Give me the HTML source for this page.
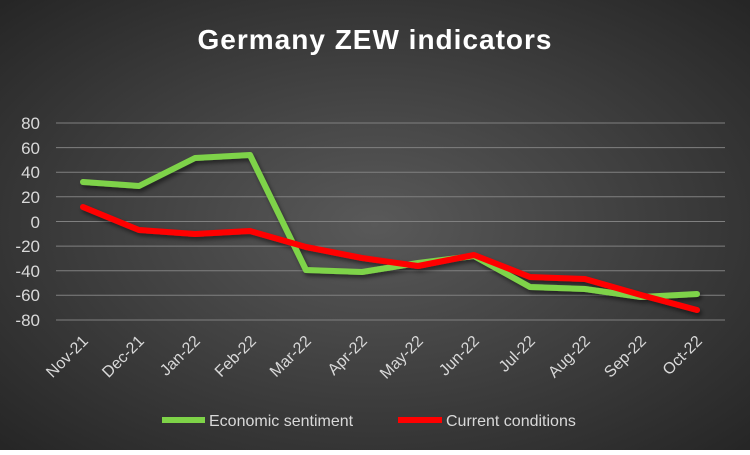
<!DOCTYPE html>
<html><head><style>
body{margin:0;width:750px;height:450px;overflow:hidden;}
</style></head><body>
<svg width="750" height="450" xmlns="http://www.w3.org/2000/svg" font-family="Liberation Sans, sans-serif">
<defs>
<radialGradient id="bg" cx="50%" cy="50%" r="70%">
<stop offset="0" stop-color="#595959"/><stop offset="1" stop-color="#262626"/>
</radialGradient>
<filter id="sh" x="-10%" y="-10%" width="120%" height="130%"><feDropShadow dx="2" dy="3" stdDeviation="2" flood-color="#000" flood-opacity="0.5"/></filter>
</defs>
<rect width="750" height="450" fill="url(#bg)"/>
<text x="375" y="49" text-anchor="middle" fill="#fff" font-size="28" font-weight="bold" letter-spacing="1">Germany ZEW indicators</text>
<g stroke="#808080" stroke-width="1">
<line x1="56" x2="725" y1="123" y2="123"/><line x1="56" x2="725" y1="147.6" y2="147.6"/>
<line x1="56" x2="725" y1="172.2" y2="172.2"/><line x1="56" x2="725" y1="196.8" y2="196.8"/>
<line x1="56" x2="725" y1="221.5" y2="221.5"/><line x1="56" x2="725" y1="246.1" y2="246.1"/>
<line x1="56" x2="725" y1="270.7" y2="270.7"/><line x1="56" x2="725" y1="295.3" y2="295.3"/>
<line x1="56" x2="725" y1="320" y2="320"/>
</g>
<g fill="#d9d9d9" font-size="17" text-anchor="end">
<text x="40" y="129">80</text><text x="40" y="154">60</text><text x="40" y="178">40</text>
<text x="40" y="203">20</text><text x="40" y="228">0</text><text x="40" y="252">-20</text>
<text x="40" y="277">-40</text><text x="40" y="301">-60</text><text x="40" y="326">-80</text>
</g>
<g fill="#d9d9d9" font-size="16" text-anchor="end">
<text transform="translate(89,342) rotate(-45)">Nov-21</text>
<text transform="translate(145,342) rotate(-45)">Dec-21</text>
<text transform="translate(201,342) rotate(-45)">Jan-22</text>
<text transform="translate(257,342) rotate(-45)">Feb-22</text>
<text transform="translate(312,342) rotate(-45)">Mar-22</text>
<text transform="translate(368,342) rotate(-45)">Apr-22</text>
<text transform="translate(424,342) rotate(-45)">May-22</text>
<text transform="translate(480,342) rotate(-45)">Jun-22</text>
<text transform="translate(536,342) rotate(-45)">Jul-22</text>
<text transform="translate(591,342) rotate(-45)">Aug-22</text>
<text transform="translate(647,342) rotate(-45)">Sep-22</text>
<text transform="translate(703,342) rotate(-45)">Oct-22</text>
</g>
<g fill="none" stroke-width="6" stroke-linejoin="round" stroke-linecap="round" filter="url(#sh)">
<polyline stroke="#7ed348" points="83,182 139,186 195,158 250,155 306,270 362,272 418,263 474,256 530,287 585,289 641,297 697,294"/>
<polyline stroke="#ff0000" points="83,207 139,230 195,234 250,231 306,247 362,258 418,266 474,255 530,277 585,279 641,295 697,310"/>
</g>
<line x1="162" x2="205" y1="420" y2="420" stroke="#7ed348" stroke-width="6"/>
<text x="209" y="426" fill="#d9d9d9" font-size="16">Economic sentiment</text>
<line x1="398" x2="442" y1="420" y2="420" stroke="#ff0000" stroke-width="6"/>
<text x="446" y="426" fill="#d9d9d9" font-size="16">Current conditions</text>
</svg>
</body></html>
